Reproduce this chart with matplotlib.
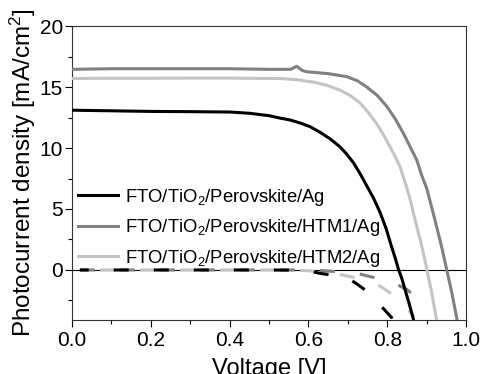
import matplotlib
matplotlib.use("Agg")
import matplotlib.pyplot as plt
from matplotlib.ticker import MultipleLocator

plt.rcParams['font.family'] = ['Liberation Sans', 'DejaVu Sans']
plt.rcParams['mathtext.fontset'] = 'custom'
plt.rcParams['mathtext.rm'] = 'Liberation Sans'
plt.rcParams['mathtext.it'] = 'Liberation Sans:italic'

labels = ["FTO/TiO$_2$/Perovskite/Ag",
          "FTO/TiO$_2$/Perovskite/HTM1/Ag",
          "FTO/TiO$_2$/Perovskite/HTM2/Ag"]
colors = ["#000000", "#808080", "#c4c4c4"]
xtick_labels = ["0.0", "0.2", "0.4", "0.6", "0.8", "1.0"]
ytick_values = [0, 5, 10, 15, 20]

# Light J-V curves
v_ag = [0.0, 0.1, 0.2, 0.3, 0.4, 0.45, 0.5, 0.528, 0.553, 0.579, 0.604, 0.629, 0.655,
        0.68, 0.697, 0.714, 0.731, 0.748, 0.765, 0.782, 0.797, 0.811, 0.82, 0.828,
        0.837, 0.845, 0.855, 0.866, 0.87]
j_ag = [13.1, 13.05, 13.0, 12.98, 12.95, 12.85, 12.65, 12.45, 12.3, 12.05, 11.75, 11.3, 10.75,
        10.1, 9.5, 8.8, 7.9, 6.9, 5.9, 4.7, 3.4, 1.9, 1.0, 0.1,
        -0.7, -1.6, -2.7, -4.0, -4.5]

v_h1 = [0.0, 0.1, 0.2, 0.3, 0.4, 0.5, 0.528, 0.555, 0.57, 0.585, 0.596, 0.65, 0.697,
        0.725, 0.748, 0.775, 0.799, 0.82, 0.841, 0.858, 0.875, 0.888, 0.9, 0.917,
        0.938, 0.951, 0.964, 0.976, 0.98]
j_h1 = [16.45, 16.5, 16.5, 16.5, 16.5, 16.45, 16.45, 16.45, 16.7, 16.35, 16.25, 16.1, 15.85,
        15.5, 15.0, 14.3, 13.4, 12.4, 11.2, 10.1, 9.0, 7.7, 6.7, 4.6,
        1.9, 0.0, -1.9, -3.9, -4.5]

v_h2 = [0.0, 0.1, 0.2, 0.3, 0.4, 0.5, 0.528, 0.57, 0.613, 0.646, 0.68, 0.706, 0.731,
        0.752, 0.773, 0.79, 0.807, 0.82, 0.832, 0.841, 0.849, 0.858, 0.866, 0.877,
        0.888, 0.9, 0.913, 0.924, 0.928]
j_h2 = [15.7, 15.72, 15.72, 15.73, 15.73, 15.7, 15.7, 15.6, 15.4, 15.15, 14.75, 14.3, 13.7,
        12.9, 12.0, 11.1, 10.1, 9.3, 8.5, 7.6, 6.8, 5.8, 4.7, 3.3,
        1.9, 0.1, -1.9, -3.9, -4.5]

# Dark J-V curves
vd_ag = [0.02, 0.1, 0.2, 0.3, 0.4, 0.5, 0.55, 0.6, 0.632, 0.66, 0.70, 0.723, 0.744,
         0.77, 0.794, 0.811, 0.815]
jd_ag = [0.0, 0.0, 0.0, 0.0, 0.0, 0.0, -0.01, -0.08, -0.29, -0.42, -0.66, -1.15, -1.64,
         -2.45, -3.3, -3.9, -4.3]

vd_h1 = [0.02, 0.1, 0.2, 0.3, 0.4, 0.5, 0.6, 0.62, 0.655, 0.70, 0.726, 0.764, 0.80,
         0.828, 0.85, 0.866]
jd_h1 = [0.0, 0.0, 0.0, 0.0, 0.0, 0.0, 0.0, -0.03, -0.1, -0.2, -0.3, -0.6, -0.95,
         -1.25, -1.6, -2.05]

vd_h2 = [0.02, 0.1, 0.2, 0.3, 0.4, 0.5, 0.55, 0.6, 0.65, 0.688, 0.73, 0.769, 0.79,
         0.815, 0.84, 0.868]
jd_h2 = [0.0, 0.0, 0.0, 0.0, 0.0, 0.0, -0.01, -0.06, -0.2, -0.42, -0.72, -1.07, -1.5,
         -2.05, -2.75, -3.85]

fig = plt.figure(figsize=(4.83, 3.74), dpi=100)
ax = fig.add_axes([0.149, 0.1444, 0.816, 0.786])

ax.axhline(0, color='black', lw=0.8, zorder=1)

lw = 2.2
on, off = 4.9, 8.2
ax.plot(vd_h1, jd_h1, color=colors[1], lw=lw, linestyle=(0, (on, off)), zorder=2)
ax.plot(vd_h2, jd_h2, color=colors[2], lw=lw, linestyle=(6.5, (on, off)), zorder=2.1)
ax.plot(vd_ag, jd_ag, color=colors[0], lw=lw, linestyle=(2.0, (on, off)), zorder=2.2)

h0, = ax.plot(v_ag, j_ag, color=colors[0], lw=lw, label=labels[0], zorder=4)
h1, = ax.plot(v_h1, j_h1, color=colors[1], lw=lw, label=labels[1], zorder=4)
h2, = ax.plot(v_h2, j_h2, color=colors[2], lw=lw, label=labels[2], zorder=4)

ax.set_xlim(0.0, 1.0)
ax.set_ylim(-4.1, 20)
ax.xaxis.set_minor_locator(MultipleLocator(0.1))
ax.yaxis.set_minor_locator(MultipleLocator(2.5))
ax.set_xticks([0.0, 0.2, 0.4, 0.6, 0.8, 1.0])
ax.set_xticklabels(xtick_labels)
ax.set_yticks(ytick_values)
ax.tick_params(axis='x', which='major', direction='out', length=5, width=0.8, labelsize=15, pad=3)
ax.tick_params(axis='y', which='major', direction='out', length=5, width=0.8, labelsize=15, pad=1.5)
ax.tick_params(axis='both', which='minor', direction='out', length=3, width=0.8)
for s in ax.spines.values():
    s.set_linewidth(0.8)
    s.set_color('#333333')

ax.set_xlabel("Voltage [V]", fontsize=17, labelpad=5.5)
ax.set_ylabel("Photocurrent density [mA/cm$^2$]", fontsize=17.5, labelpad=1)

leg = ax.legend(handles=[h0, h1, h2], loc='upper left', bbox_to_anchor=(-0.018, 0.497),
                frameon=False, fontsize=13.3, handlelength=2.2, handletextpad=0.38,
                labelspacing=0.51, borderpad=0.2)

fig.savefig("out.png", dpi=100)
